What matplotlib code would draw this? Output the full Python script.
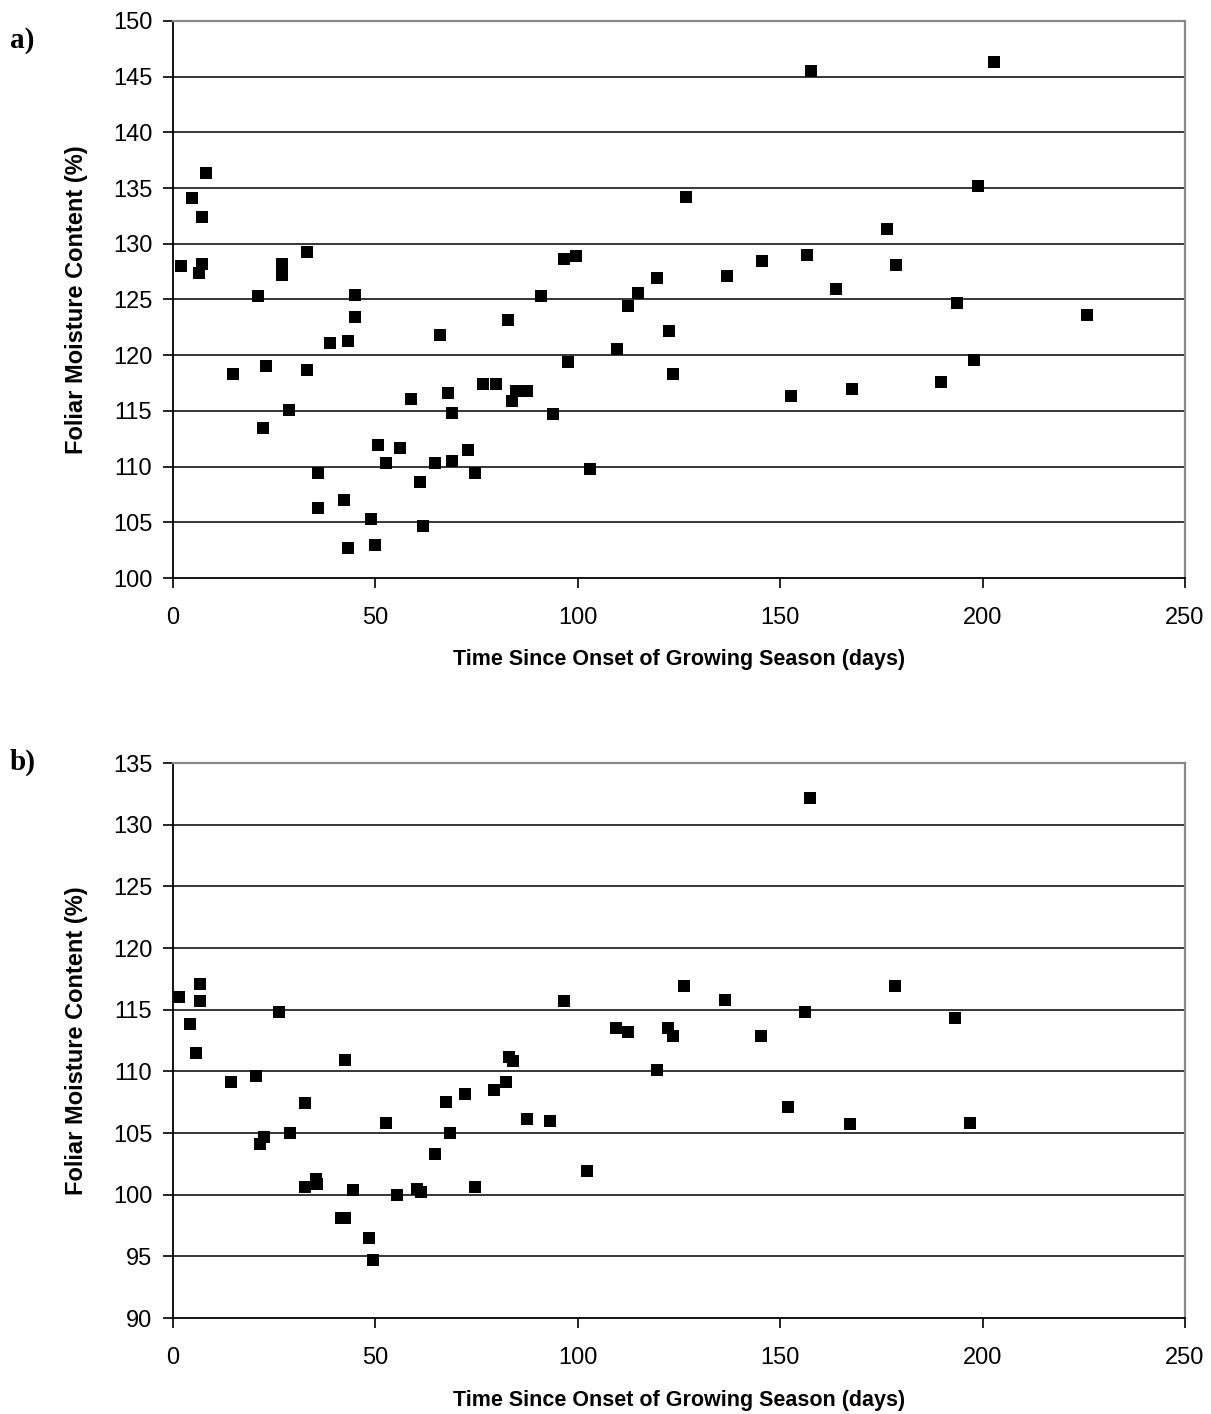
# Foliar moisture content vs. time since onset of growing season, panels a) and b)

import matplotlib
matplotlib.use('Agg')
import matplotlib.pyplot as plt

# Panel a data (days, %)

days_a = [2.0, 4.8, 7.2, 8.2, 7.2, 6.3, 14.9, 21.1, 22.2, 23.0, 27.0, 27.0, 28.7, 33.1, 33.1,
          35.9, 35.9, 38.9, 42.2, 43.2, 43.2, 45.0, 45.0, 48.8, 49.8, 50.7, 52.7, 56.0, 58.9,
          60.9, 61.8, 64.6, 66.0, 68.0, 69.0, 69.0, 72.8, 74.7, 76.6, 79.9, 82.8, 83.7, 84.7,
          87.5, 91.0, 93.8, 96.6, 97.6, 99.6, 102.9, 109.6, 112.4, 114.9, 119.6, 122.5, 123.4,
          126.7, 136.9, 145.5, 152.7, 156.6, 157.5, 163.8, 167.7, 176.5, 178.7, 189.8, 193.6,
          197.9, 198.9, 202.8, 225.9]
fmc_a = [128.0, 134.1, 132.4, 136.4, 128.2, 127.4, 118.3, 125.3, 113.5, 119.0, 128.2, 127.2,
         115.1, 129.3, 118.7, 109.4, 106.3, 121.1, 107.0, 121.3, 102.7, 125.4, 123.4, 105.3,
         103.0, 111.9, 110.3, 111.7, 116.1, 108.6, 104.7, 110.3, 121.8, 116.6, 114.8, 110.5,
         111.5, 109.4, 117.4, 117.4, 123.2, 115.9, 116.8, 116.8, 125.3, 114.7, 128.6, 119.4,
         128.9, 109.8, 120.6, 124.4, 125.6, 126.9, 122.2, 118.3, 134.2, 127.1, 128.5, 116.3,
         129.0, 145.5, 125.9, 117.0, 131.3, 128.1, 117.6, 124.7, 119.6, 135.2, 146.3, 123.6]

# Panel b data (days, %)

days_b = [1.4, 4.3, 5.8, 6.7, 6.7, 14.3, 20.6, 21.5, 22.5, 26.3, 28.8, 32.5, 32.5, 35.4, 35.6,
          41.4, 42.6, 42.6, 44.5, 48.3, 49.3, 52.6, 55.4, 60.3, 61.3, 64.6, 67.4, 68.4, 72.2,
          74.6, 79.4, 82.2, 83.1, 84.1, 87.5, 93.2, 96.6, 102.3, 109.5, 112.3, 119.5, 122.4,
          123.4, 126.2, 136.3, 145.3, 152.0, 156.2, 157.3, 167.2, 178.3, 193.1, 196.9]
fmc_b = [116.0, 113.8, 111.5, 117.1, 115.7, 109.1, 109.6, 104.1, 104.7, 114.8, 105.0, 107.4,
         100.6, 101.3, 100.9, 98.1, 98.1, 110.9, 100.4, 96.5, 94.7, 105.8, 100.0, 100.5, 100.2,
         103.3, 107.5, 105.0, 108.2, 100.6, 108.5, 109.1, 111.2, 110.8, 106.1, 106.0, 115.7,
         101.9, 113.5, 113.2, 110.1, 113.5, 112.9, 116.9, 115.8, 112.9, 107.1, 114.8, 132.2,
         105.7, 116.9, 114.3, 105.8]

xticks = [0, 50, 100, 150, 200, 250]
yticks_a = list(range(100, 151, 5))
yticks_b = list(range(90, 136, 5))

xlab = 'Time Since Onset of Growing Season (days)'
ylab = 'Foliar Moisture Content (%)'

plt.rcParams['font.family'] = ['Liberation Sans', 'DejaVu Sans']

fig = plt.figure(figsize = (12.11, 14.14), dpi = 100)
ax_a = fig.add_axes([0.14286, 0.59123, 0.83567, 0.39392])
ax_b = fig.add_axes([0.14286, 0.06789, 0.83567, 0.39250])

for ax, xs, ys, yt, tag, tag_y, xl_y in [(ax_a, days_a, fmc_a, yticks_a, 'a)', 1 - 40 / 1414, -0.1275),
                                         (ax_b, days_b, fmc_b, yticks_b, 'b)', 1 - 762 / 1414, -0.1297)]:

    for v in yt[1:-1]:
        ax.axhline(v, color = 'black', linewidth = 1.1, zorder = 1)

    ax.plot(xs, ys, 's', color = 'black', markersize = 8.3, markeredgewidth = 0, zorder = 3)

    ax.set_xlim(0, 250)
    ax.set_ylim(yt[0], yt[-1])
    ax.set_xticks(xticks)
    ax.set_yticks(yt)

    ax.spines['left'].set_linewidth(1.3)
    ax.spines['bottom'].set_linewidth(1.3)
    ax.spines['top'].set_color('#888888')
    ax.spines['right'].set_color('#888888')
    ax.spines['top'].set_linewidth(1.6)
    ax.spines['right'].set_linewidth(1.6)

    ax.tick_params(axis = 'y', direction = 'out', length = 7, width = 1.2, pad = 8, labelsize = 17)
    ax.tick_params(axis = 'x', direction = 'out', length = 7, width = 1.2, pad = 14, labelsize = 17)

    ax.set_xlabel(xlab, fontsize = 15.5, fontweight = 'bold')
    ax.set_ylabel(ylab, fontsize = 17, fontweight = 'bold')
    ax.xaxis.set_label_coords(0.5, xl_y)
    ax.yaxis.set_label_coords(-0.084, 0.5)

    fig.text(10 / 1211, tag_y, tag, fontsize = 21, fontweight = 'bold',
             family = ['Liberation Serif', 'DejaVu Serif'], ha = 'left', va = 'center')

plt.savefig('out.png', dpi = 100)
